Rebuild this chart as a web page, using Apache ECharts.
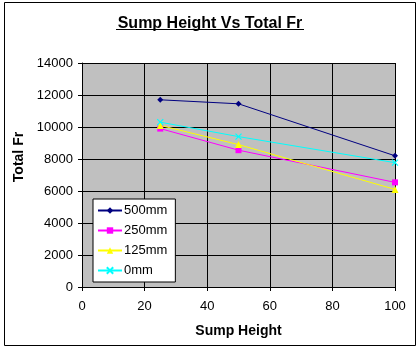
<!DOCTYPE html>
<html><head><meta charset="utf-8">
<script src="https://cdn.jsdelivr.net/npm/echarts@6/dist/echarts.min.js"></script>
<style>html,body{margin:0;padding:0;background:#fff}#c{width:420px;height:349px}</style>
</head><body><div id="c"></div>
<script>
const sumpHeights = [25, 50, 100];
const seriesNames = ['500mm', '250mm', '125mm', '0mm'];
const s500 = [11700, 11450, 8200];
const s250 = [9900, 8550, 6540];
const s125 = [10100, 8900, 6100];
const s0 = [10300, 9400, 7770];
const xTicks = [0, 20, 40, 60, 80, 100];
const yTicks = [0, 2000, 4000, 6000, 8000, 10000, 12000, 14000];

const values = [s500, s250, s125, s0];
const colors = ['#000080', '#ff00ff', '#ffff00', '#00ffff'];
const symbols = ['diamond', 'rect', 'triangle', 'path://M0,0L10,10M10,0L0,10'];
const sizes = [6, 6, 7, 6];
const font = 'Arial, "Liberation Sans", sans-serif';

const chart = echarts.init(document.getElementById('c'));
chart.setOption({
  animation: false,
  backgroundColor: '#fff',
  title: {
    text: 'Sump Height Vs Total Fr', left: 'center', top: 11,
    textStyle: {fontFamily: font, fontSize: 16, fontWeight: 'bold', color: '#000'}
  },
  graphic: [
    {type: 'rect', shape: {x: 4.5, y: 2.5, width: 411, height: 343}, style: {fill: 'none', stroke: '#000', lineWidth: 1}, silent: true},
    {type: 'line', shape: {x1: 116, y1: 29.5, x2: 304, y2: 29.5}, style: {stroke: '#000', lineWidth: 1}, silent: true}
  ],
  grid: {left: 82, right: 25, top: 63, bottom: 62, show: true, backgroundColor: '#c0c0c0', borderWidth: 0},
  legend: {
    orient: 'vertical', left: 93, top: 199, data: seriesNames,
    backgroundColor: '#fff', borderColor: '#000', borderWidth: 1,
    padding: [5, 8, 5, 4], itemGap: 7, itemWidth: 24, itemHeight: 8,
    textStyle: {fontFamily: font, fontSize: 13, color: '#000', padding: [0, 0, 0, -3]}
  },
  xAxis: {
    type: 'value', min: xTicks[0], max: xTicks[xTicks.length - 1], interval: xTicks[1] - xTicks[0],
    name: 'Sump Height', nameLocation: 'middle', nameGap: 37,
    nameTextStyle: {fontFamily: font, fontSize: 14, fontWeight: 'bold', color: '#000'},
    axisLine: {show: true, lineStyle: {color: '#000', width: 1}},
    axisTick: {show: true, length: 4, inside: false, lineStyle: {color: '#000'}},
    axisLabel: {fontFamily: font, fontSize: 13, color: '#000', margin: 13},
    splitLine: {show: true, lineStyle: {color: '#000', width: 1}}
  },
  yAxis: {
    type: 'value', min: yTicks[0], max: yTicks[yTicks.length - 1], interval: yTicks[1] - yTicks[0],
    name: 'Total Fr', nameLocation: 'middle', nameGap: 56, nameRotate: 90,
    nameTextStyle: {fontFamily: font, fontSize: 14, fontWeight: 'bold', color: '#000', padding: [0, 0, 0, 36]},
    axisLine: {show: true, lineStyle: {color: '#000', width: 1}},
    axisTick: {show: true, length: 4, inside: false, lineStyle: {color: '#000'}},
    axisLabel: {fontFamily: font, fontSize: 13, color: '#000', margin: 9, formatter: v => String(v)},
    splitLine: {show: true, lineStyle: {color: '#000', width: 1}}
  },
  series: seriesNames.map((n, i) => ({
    name: n, type: 'line',
    data: sumpHeights.map((x, j) => [x, values[i][j]]),
    symbol: symbols[i], symbolSize: sizes[i], showSymbol: true,
    lineStyle: {color: colors[i], width: 1},
    itemStyle: {color: colors[i], borderColor: colors[i], borderWidth: i === 3 ? 1.2 : 0}
  }))
});
</script></body></html>
